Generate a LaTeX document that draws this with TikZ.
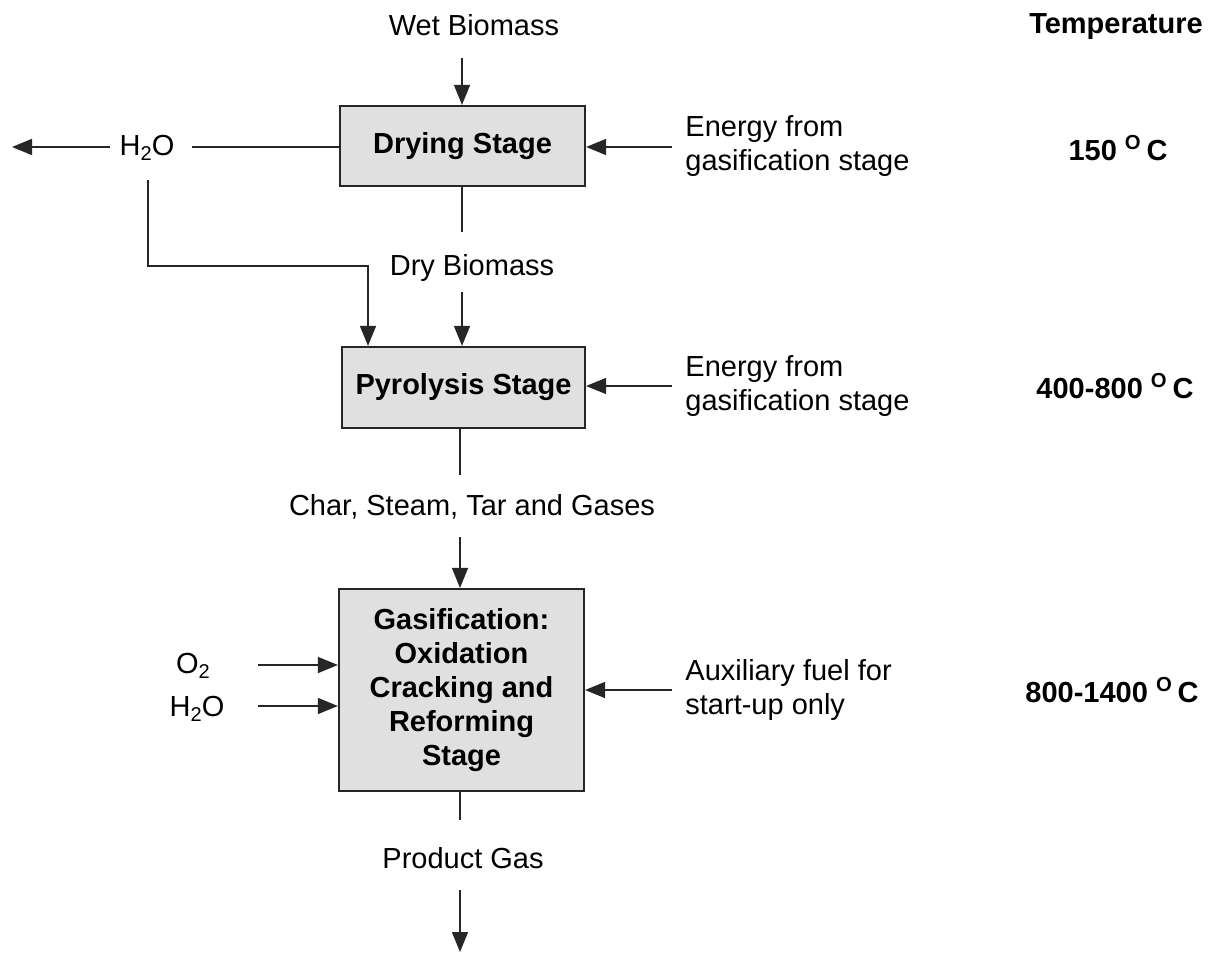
\documentclass[tikz,border=0pt]{standalone}
\usepackage{fontspec}
\setmainfont{Liberation Sans}
\usetikzlibrary{arrows.meta}
\newcommand{\fs}{\fontsize{14.5}{17}\selectfont}
\newcommand{\lowsub}[1]{\raisebox{-0.35ex}{\fontsize{10}{10}\selectfont #1}}
\begin{document}
\begin{tikzpicture}[x=0.5pt,y=-0.5pt,
 stage/.style={draw=black!85, line width=1.1pt, fill=black!12, font=\fs\bfseries, align=center, inner sep=0pt},
 lbl/.style={inner sep=0pt, align=left, font=\fs},
 temp/.style={inner sep=0pt, font=\fs\bfseries},
 flow/.style={line width=0.75pt, draw=black!85},
 arr/.style={flow, -{Triangle[length=10pt,width=8pt]}}
]
\useasboundingbox (0,0) rectangle (1208,967);
% stages
\node[stage, minimum width=122.5pt, minimum height=40pt] (drying) at (462.5,146) {Drying Stage};
\node[stage, minimum width=121.5pt, minimum height=40.5pt] (pyro) at (463.5,387.5) {Pyrolysis Stage};
\node[stage, minimum width=122.5pt, minimum height=101pt] (gas) at (461.5,690) {Gasification:\\Oxidation\\Cracking and\\Reforming\\Stage};
% labels
\node[lbl] (wet) at (474,25) {Wet Biomass};
\node[temp] (temphead) at (1116,27) {Temperature};
\node[lbl] (h2oa) at (147,148) {H\lowsub{2}O};
\node[lbl, anchor=west] (en1) at (685,146) {Energy from\\gasification stage};
\node[temp] (t1) at (1118,148) {150 \textsuperscript{O}\,C};
\node[lbl] (dry) at (472,268) {Dry Biomass};
\node[lbl, anchor=west] (en2) at (685,386) {Energy from\\gasification stage};
\node[temp] (t2) at (1115,386) {400-800 \textsuperscript{O}\,C};
\node[lbl] (char) at (472,507) {Char, Steam, Tar and Gases};
\node[lbl] (o2) at (193,666) {O\lowsub{2}};
\node[lbl] (h2ob) at (197,709) {H\lowsub{2}O};
\node[lbl, anchor=west] (aux) at (685,690) {Auxiliary fuel for\\start-up only};
\node[temp] (t3) at (1112,690) {800-1400 \textsuperscript{O}\,C};
\node[lbl] (prod) at (463,858) {Product Gas};
% connector ends
\coordinate (wetend) at (462,58);
\coordinate (h2oR) at (192,147);
\coordinate (h2oL) at (110,147);
\coordinate (h2oout) at (12,147);
\coordinate (h2odown) at (148,180);
\coordinate (h2obend) at (148,266);
\coordinate (h2ocorner) at (368,266);
\coordinate (dryA) at (462,232);
\coordinate (dryB) at (462,292);
\coordinate (e1) at (672,147);
\coordinate (e2) at (672,386);
\coordinate (charA) at (460,475);
\coordinate (charB) at (460,537);
\coordinate (o2s) at (258,665);
\coordinate (h2os) at (258,706);
\coordinate (auxs) at (672,690);
\coordinate (prodA) at (460,820);
\coordinate (prodB) at (460,890);
\coordinate (prodout) at (460,952);
% connectors
\draw[arr] (wetend) -- (wetend |- drying.north);
\draw[flow] (drying.west |- h2oR) -- (h2oR);
\draw[arr] (h2oL) -- (h2oout);
\draw[arr] (h2odown) -- (h2obend) -- (h2ocorner) -- (h2ocorner |- pyro.north);
\draw[flow] (dryA |- drying.south) -- (dryA);
\draw[arr] (dryB) -- (dryB |- pyro.north);
\draw[arr] (e1) -- (e1 -| drying.east);
\draw[arr] (e2) -- (e2 -| pyro.east);
\draw[flow] (charA |- pyro.south) -- (charA);
\draw[arr] (charB) -- (charB |- gas.north);
\draw[arr] (o2s) -- (o2s -| gas.west);
\draw[arr] (h2os) -- (h2os -| gas.west);
\draw[arr] (auxs) -- (auxs -| gas.east);
\draw[flow] (prodA |- gas.south) -- (prodA);
\draw[arr] (prodB) -- (prodout);
\end{tikzpicture}
\end{document}
